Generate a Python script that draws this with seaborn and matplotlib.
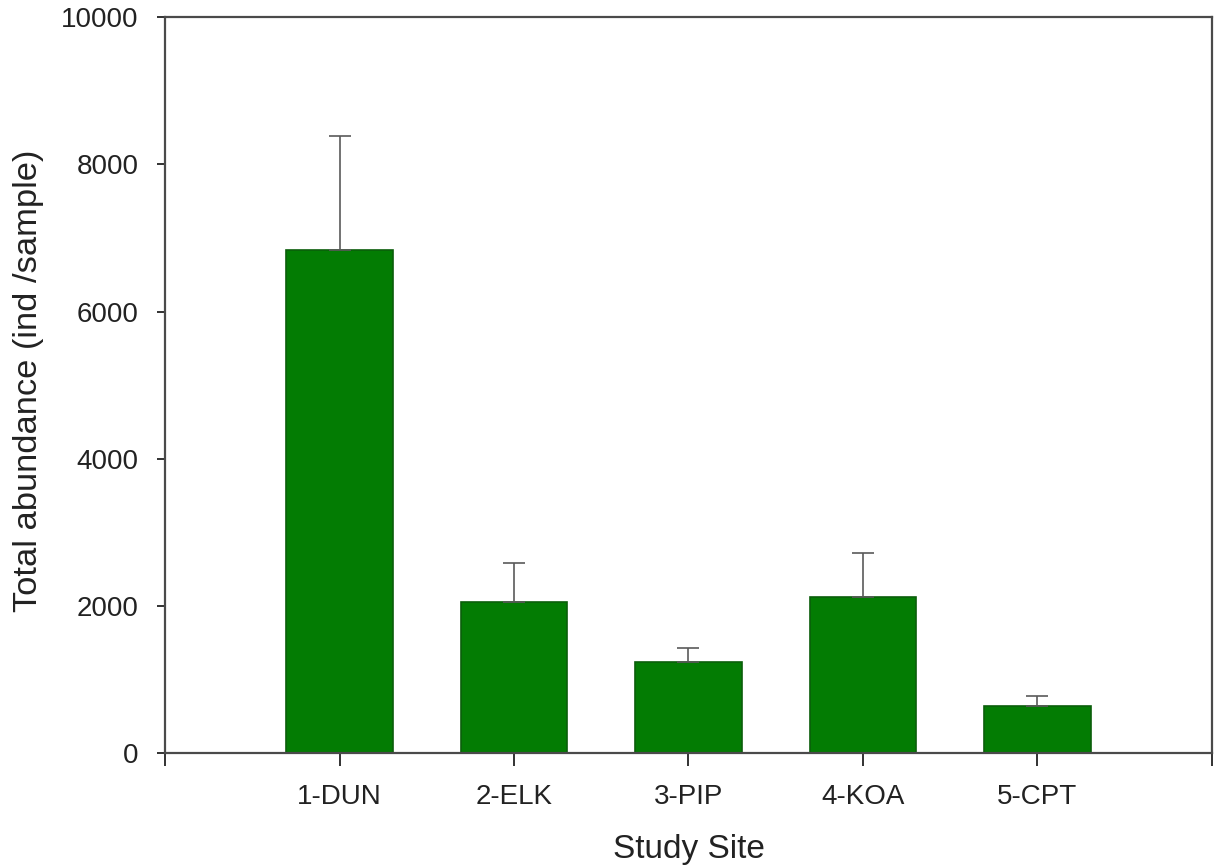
import matplotlib
matplotlib.use("Agg")
import matplotlib.pyplot as plt
import seaborn as sns
import pandas as pd
import numpy as np

sites = ["1-DUN", "2-ELK", "3-PIP", "4-KOA", "5-CPT"]
abundance = [6840, 2055, 1240, 2120, 640]
err_upper = [1540, 530, 190, 600, 136]
yticks = [0, 2000, 4000, 6000, 8000, 10000]

sns.set_theme(style="ticks")
plt.rcParams['font.family'] = ['Liberation Sans', 'DejaVu Sans']

df = pd.DataFrame({"site": sites, "abundance": abundance})

fig = plt.figure(figsize=(12.18, 8.65), dpi=100)
ax = fig.add_axes([0.1355, 0.1295, 0.8595, 0.8505])

sns.barplot(data=df, x="site", y="abundance", color="#037c03", saturation=1,
            width=0.61, edgecolor="#0b5e0b", linewidth=1.2, ax=ax, errorbar=None)

xpos = np.arange(len(sites))
ax.errorbar(xpos, abundance, yerr=[np.zeros(len(sites)), err_upper], fmt="none",
            ecolor="#5a5a5a", elinewidth=1.2, capsize=8, capthick=1.2, zorder=1)

ax.set_xlim(-1.0, 5.0)
ax.set_ylim(0, 10000)
ax.set_yticks(yticks)
ax.set_yticklabels([str(v) for v in yticks])
ax.set_xticks([-1.0, 5.0], minor=True)
ax.set_xlabel("Study Site", fontsize=24, color="#222222")
ax.set_ylabel("Total abundance (ind /sample)", fontsize=24.8, color="#222222")
ax.xaxis.set_label_coords(0.5, -0.11)
ax.yaxis.set_label_coords(-0.116, 0.506)
ax.tick_params(axis="both", which="both", labelsize=20, colors="#222222",
               direction="out", width=1.3)
ax.tick_params(axis="y", length=6, pad=13)
ax.tick_params(axis="x", which="both", length=9, pad=13)
for s in ax.spines.values():
    s.set_linewidth(1.6)
    s.set_color("#4a4a4a")
ax.spines["top"].set_visible(True)
ax.spines["right"].set_visible(True)

fig.savefig("out.png", dpi=100)
